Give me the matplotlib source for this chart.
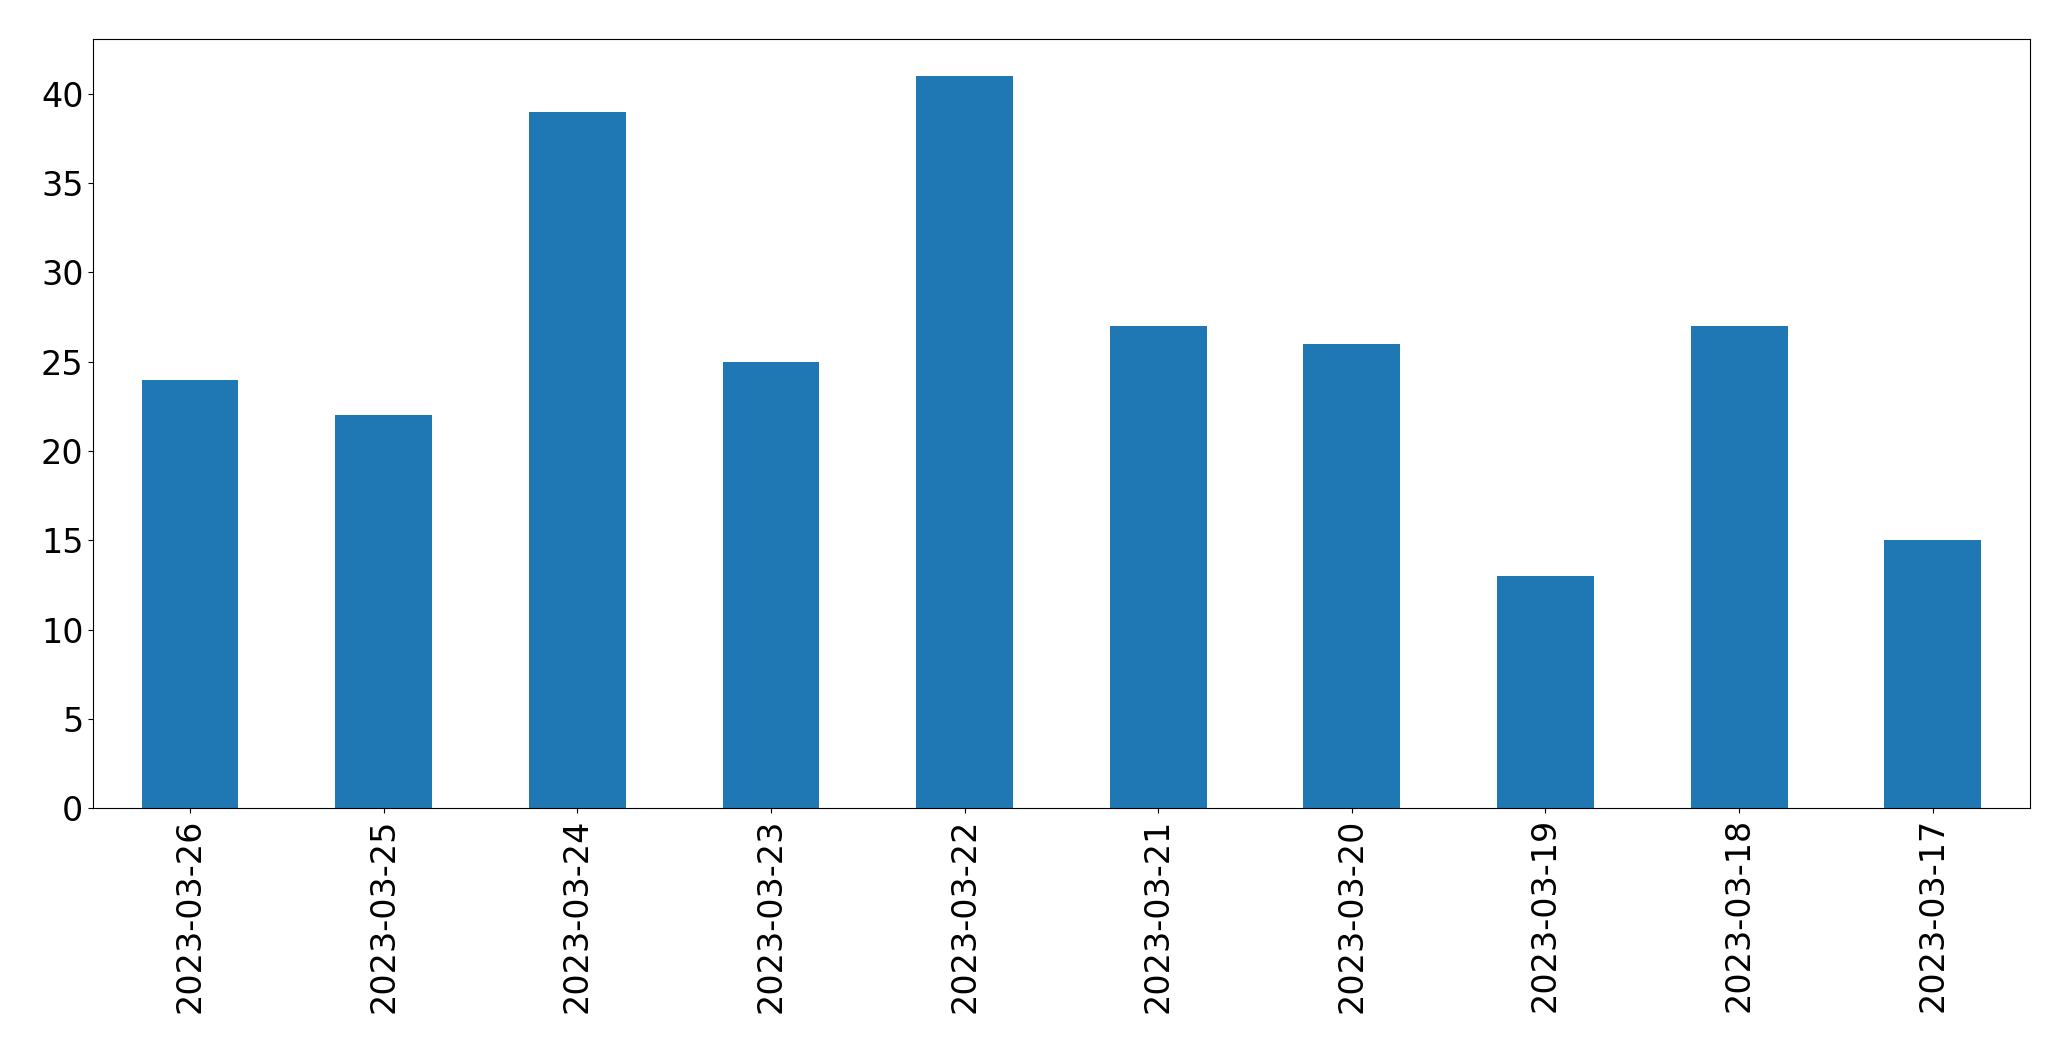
import matplotlib
matplotlib.use("Agg")
import matplotlib.pyplot as plt

dates = ["2023-03-26", "2023-03-25", "2023-03-24", "2023-03-23", "2023-03-22",
         "2023-03-21", "2023-03-20", "2023-03-19", "2023-03-18", "2023-03-17"]
counts = [24, 22, 39, 25, 41, 27, 26, 13, 27, 15]

fig = plt.figure(figsize=(20.71, 10.61), dpi=100)
ax = fig.add_axes([0.045, 0.238, 0.935, 0.725])
x = range(len(dates))
ax.bar(x, counts, width=0.5, color="#1f77b4")
ax.set_xlim(-0.5, len(dates) - 0.5)
ax.set_xticks(list(x))
ax.set_xticklabels(dates, rotation=90)
ax.tick_params(labelsize=24)
fig.savefig("out.png", dpi=100)
